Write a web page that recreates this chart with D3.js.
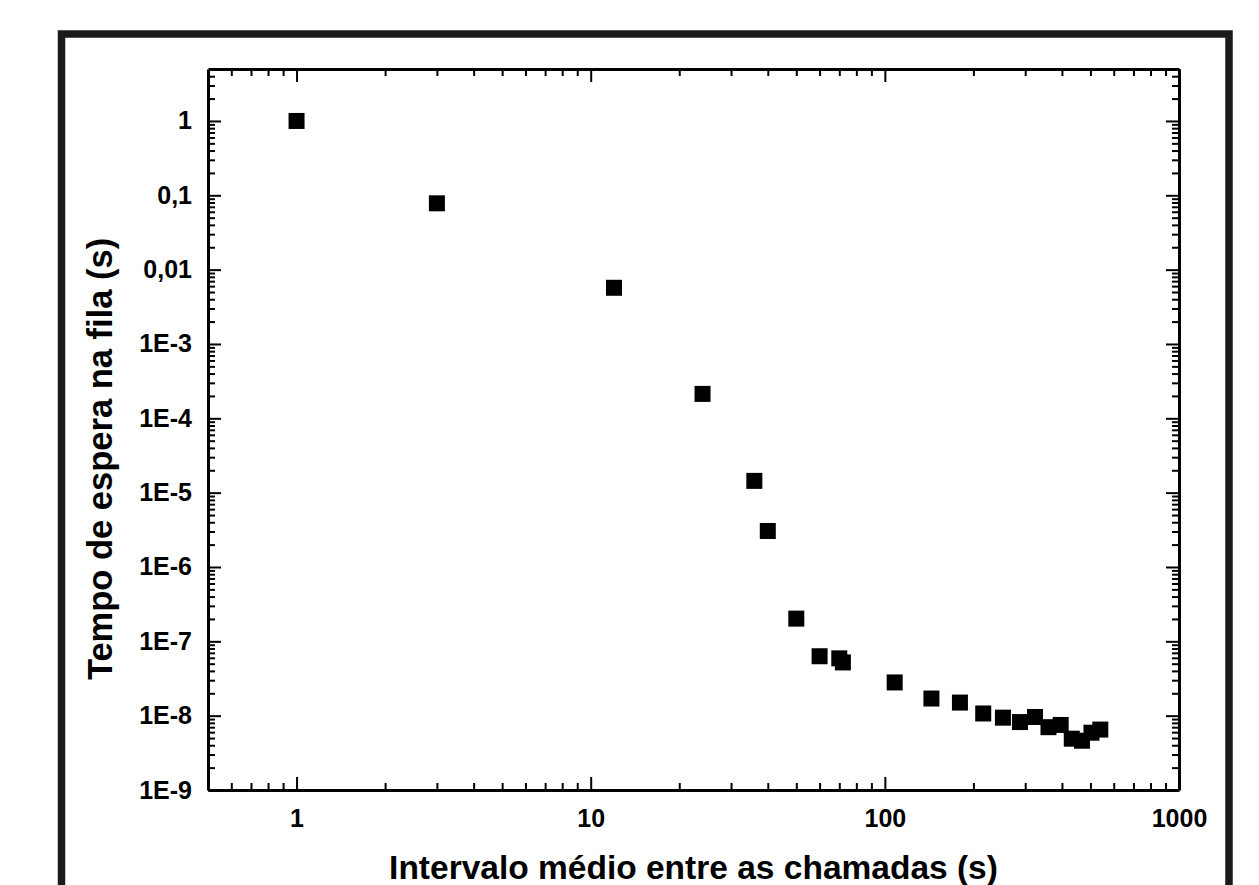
<!DOCTYPE html>
<html>
<head>
<meta charset="utf-8">
<script src="https://cdn.jsdelivr.net/npm/d3@7"></script>
<style>
  body { margin: 0; background: #fff; }
  text { font-family: 'Liberation Sans', Arial, sans-serif; font-weight: bold; fill: #000; }
</style>
</head>
<body>
<script>
// Data
const intervals = [1, 3, 12, 24, 36, 40, 50, 60, 70, 72, 108, 144, 180, 216, 252, 288, 324, 360, 396, 432, 468, 504, 540]
const waitTimes = [1.0, 0.078, 0.0057, 2.13e-4, 1.44e-5, 3.05e-6, 2.02e-7, 6.3e-8, 5.9e-8, 5.2e-8, 2.8e-8, 1.7e-8, 1.5e-8, 1.07e-8, 9.4e-9, 8.2e-9, 9.6e-9, 7.0e-9, 7.5e-9, 4.9e-9, 4.6e-9, 5.9e-9, 6.5e-9]

const xTicks = [1, 10, 100, 1000]
const xTickLabels = ['1', '10', '100', '1000']
const yTicks = [1e-9, 1e-8, 1e-7, 1e-6, 1e-5, 1e-4, 1e-3, 1e-2, 1e-1, 1]
const yTickLabels = ['1E-9', '1E-8', '1E-7', '1E-6', '1E-5', '1E-4', '1E-3', '0,01', '0,1', '1']

const xTitle = 'Intervalo médio entre as chamadas (s)'
const yTitle = 'Tempo de espera na fila (s)'

const data = intervals.map((d, i) => ({x: d, y: waitTimes[i]}))

const margin = {top: 69, bottom: 95, left: 208, right: 80}
const width = 1259 - margin.left - margin.right
const height = 885 - margin.top - margin.bottom

const svg = d3.select('body').append('svg')
  .attr('width', 1259)
  .attr('height', 885)

// outer frame (bottom is cut off in the picture)
svg.append('rect')
  .attr('x', 61.5).attr('y', 34)
  .attr('width', 1167.5).attr('height', 900)
  .attr('fill', 'none')
  .attr('stroke', '#1a1a1a')
  .attr('stroke-width', 7.5)

const g = svg.append('g')
  .attr('transform', `translate(${margin.left},${margin.top})`)

// Scales
const xscale = d3.scaleLog().domain([0.5, 1000]).range([0, width])
const yscale = d3.scaleLog().domain([1e-9, 5]).range([height, 0])

// minor ticks: 2..9 in every decade, inside the domain
const minorTicks = (scale) => {
  const [a, b] = scale.domain()
  const out = []
  for (let e = Math.floor(Math.log10(a)); e <= Math.ceil(Math.log10(b)); e++) {
    for (let m = 2; m <= 9; m++) {
      const v = m * Math.pow(10, e)
      if (v > a * 1.0001 && v < b * 0.9999) out.push(v)
    }
  }
  return out
}
const xMinor = minorTicks(xscale)
const yMinor = minorTicks(yscale)

const fmtX = (d) => xTickLabels[xTicks.indexOf(d)]
const fmtY = (d) => yTickLabels[yTicks.findIndex((t) => Math.abs(Math.log10(t) - Math.log10(d)) < 1e-6)]

// major axes, ticks pointing inward
const axes = [
  {axis: d3.axisBottom(xscale).tickValues(xTicks).tickFormat(fmtX).tickPadding(19), t: `translate(0,${height})`},
  {axis: d3.axisTop(xscale).tickValues(xTicks).tickFormat(''), t: 'translate(0,0)'},
  {axis: d3.axisLeft(yscale).tickValues(yTicks).tickFormat(fmtY).tickPadding(16), t: 'translate(0,0)'},
  {axis: d3.axisRight(yscale).tickValues(yTicks).tickFormat(''), t: `translate(${width},0)`}
]
axes.forEach((a) => {
  const ax = g.append('g').attr('transform', a.t)
    .call(a.axis.tickSizeInner(-13).tickSizeOuter(0))
  ax.select('.domain').attr('stroke-width', 3)
  ax.selectAll('.tick line').attr('stroke-width', 2)
  ax.selectAll('.tick text').style('font-size', '25px').attr('font-family', null)
})

// minor ticks
const minorAxes = [
  {axis: d3.axisBottom(xscale).tickValues(xMinor), t: `translate(0,${height})`},
  {axis: d3.axisTop(xscale).tickValues(xMinor), t: 'translate(0,0)'},
  {axis: d3.axisLeft(yscale).tickValues(yMinor), t: 'translate(0,0)'},
  {axis: d3.axisRight(yscale).tickValues(yMinor), t: `translate(${width},0)`}
]
minorAxes.forEach((a) => {
  const ax = g.append('g').attr('transform', a.t)
    .call(a.axis.tickSizeInner(-7).tickSizeOuter(0).tickFormat(''))
  ax.select('.domain').remove()
  ax.selectAll('.tick line').attr('stroke-width', 2)
})

// points: filled squares
const size = 16
g.selectAll('rect.pt').data(data).join('rect')
  .attr('class', 'pt')
  .attr('x', (d) => xscale(d.x) - size / 2)
  .attr('y', (d) => yscale(d.y) - size / 2)
  .attr('width', size)
  .attr('height', size)
  .attr('fill', '#000')

// axis titles
svg.append('text')
  .attr('x', margin.left + width / 2)
  .attr('y', 879)
  .attr('text-anchor', 'middle')
  .style('font-size', '33.5px')
  .text(xTitle)

svg.append('text')
  .attr('transform', 'translate(112,459) rotate(-90)')
  .attr('text-anchor', 'middle')
  .style('font-size', '34.5px')
  .text(yTitle)
</script>
</body>
</html>
